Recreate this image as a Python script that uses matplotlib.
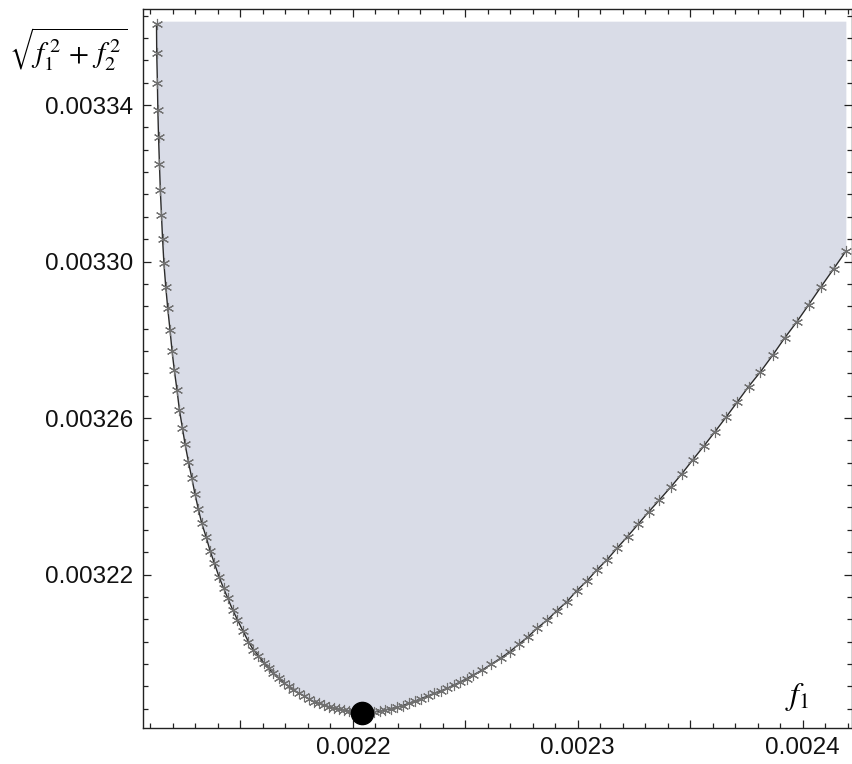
#!/usr/bin/env python3
# -*- coding: utf-8 -*-
# feasible region f1 vs sqrt(f1^2+f2^2) with optimum point

import numpy as np
import matplotlib
matplotlib.use("Agg")
import matplotlib.pyplot as pl
from matplotlib.ticker import FixedLocator, FixedFormatter

#--- data (in units of 1e-6)
f1_pts = [2112.7, 2112.8, 2113.1, 2113.3, 2113.6, 2114.0, 2114.4, 2114.9, 2115.4, 2116.0,
          2116.8, 2117.7, 2118.7, 2119.6, 2120.6, 2121.8, 2122.9, 2124.2, 2125.4, 2126.9,
          2128.4, 2129.8, 2131.3, 2132.8, 2134.7, 2136.5, 2138.4, 2140.5, 2142.5, 2144.4,
          2146.6, 2148.7, 2151.1, 2153.6, 2155.8, 2158.0, 2160.3, 2162.5, 2164.7, 2167.0,
          2169.2, 2171.4, 2173.6, 2175.9, 2178.2, 2180.4, 2182.6, 2184.9, 2187.1, 2189.3,
          2191.5, 2193.8, 2196.0, 2198.2, 2200.4, 2202.7, 2204.9, 2207.1, 2209.6, 2212.0,
          2214.5, 2216.9, 2219.6, 2222.3, 2224.9, 2227.6, 2230.3, 2233.2, 2236.1, 2239.0,
          2241.9, 2244.8, 2247.7, 2250.6, 2253.5, 2257.6, 2261.6, 2265.7, 2269.8, 2273.9,
          2277.9, 2282.0, 2286.5, 2290.6, 2295.1, 2299.6, 2304.0, 2308.5, 2312.9, 2317.4,
          2322.1, 2326.9, 2331.5, 2336.2, 2341.4, 2346.2, 2351.1, 2356.0, 2361.0, 2365.9,
          2370.8, 2375.9, 2381.2, 2386.7, 2391.9, 2397.4, 2402.6, 2408.2, 2413.7, 2419.4]

r_pts = [3360.7, 3353.2, 3345.7, 3338.7, 3331.9, 3324.9, 3318.3, 3311.9, 3305.7, 3299.5,
         3293.6, 3288.0, 3282.5, 3277.2, 3272.3, 3267.2, 3262.0, 3257.5, 3253.3, 3248.8,
         3244.6, 3240.6, 3236.7, 3233.1, 3229.7, 3226.1, 3222.9, 3219.4, 3216.5, 3213.9,
         3210.9, 3208.4, 3205.6, 3202.8, 3200.7, 3199.2, 3197.5, 3196.0, 3194.7, 3193.5,
         3192.3, 3191.4, 3190.5, 3189.7, 3189.0, 3188.2, 3187.5, 3187.1, 3186.6, 3186.2,
         3185.9, 3185.6, 3185.4, 3185.1, 3185.0, 3184.9, 3184.8, 3184.8, 3184.9, 3185.1,
         3185.4, 3185.7, 3186.1, 3186.5, 3187.1, 3187.6, 3188.3, 3188.9, 3189.6, 3190.2,
         3190.9, 3191.7, 3192.5, 3193.4, 3194.3, 3195.6, 3197.1, 3198.6, 3200.3, 3202.2,
         3204.1, 3206.3, 3208.4, 3210.7, 3213.0, 3215.9, 3218.3, 3221.2, 3223.7, 3226.7,
         3229.7, 3232.9, 3236.0, 3239.0, 3242.4, 3245.7, 3249.3, 3252.8, 3256.5, 3260.2,
         3264.0, 3268.0, 3271.8, 3276.1, 3280.4, 3284.6, 3288.9, 3293.6, 3298.1, 3302.8]

f1_opt = 2204.0
r_opt  = 3184.7
r_top  = 3361.3   # upper edge of the shaded region

xticks  = [0.0022, 0.0023, 0.0024]
xlabels = ["0.0022", "0.0023", "0.0024"]
yticks  = [0.00322, 0.00326, 0.00330, 0.00334]
ylabels = ["0.00322", "0.00326", "0.00330", "0.00334"]

f1 = np.array(f1_pts) * 1e-6
r  = np.array(r_pts) * 1e-6

#--- figure
pl.rcParams["font.family"] = "Liberation Sans"
pl.rcParams["mathtext.fontset"] = "stix"

fig = pl.figure(figsize=(8.53, 7.64), dpi=100)
ax  = fig.add_axes([0.1676, 0.0475, 0.8316, 0.9403])

#--- shaded region above the curve
px = np.concatenate([f1, [f1[-1], f1[0]]])
py = np.concatenate([r, [r_top * 1e-6, r_top * 1e-6]])
ax.fill(px, py, color="#d9dce7", lw=0, zorder=1)

#--- boundary curve with asterisks
ax.plot(f1, r, color="#2b2b2b", lw=1.0, zorder=2)
ax.plot(f1, r, ls="none", marker=(6, 2, 0), ms=8, mec="#707070", mew=0.8, zorder=3)

#--- optimum
ax.plot(f1_opt * 1e-6, r_opt * 1e-6, "o", color="black", ms=16, zorder=5)

ax.set_xlim(0.00210668, 0.00242205)
ax.set_ylim(0.00318084, 0.00336446)

#--- ticks, mathematica style frame
xmaj = np.arange(0.00215, 0.002425, 0.00005)
ax.xaxis.set_major_locator(FixedLocator(xmaj))
ax.xaxis.set_major_formatter(FixedFormatter(
    [xlabels[xticks.index(round(v, 5))] if round(v, 5) in xticks else "" for v in xmaj]))
ax.xaxis.set_minor_locator(FixedLocator(np.arange(0.00211, 0.002422, 0.00001)))

ystep = 0.00004 / 7
ax.yaxis.set_major_locator(FixedLocator(yticks))
ax.yaxis.set_major_formatter(FixedFormatter(ylabels))
ax.yaxis.set_minor_locator(FixedLocator(0.00334 + ystep * np.arange(-30, 5)))

ax.tick_params(which="both", direction="in", top=True, right=True,
               color="#222222", width=0.9, labelsize=17.5, labelcolor="#111111")
ax.tick_params(which="major", length=6, pad=7)
ax.tick_params(which="minor", length=3.5)
for s in ax.spines.values():
    s.set_color("#222222")
    s.set_linewidth(1.0)

#--- axis labels
fig.text(0.010, 0.937, r"$\sqrt{f_1^{\,2}\,+\,f_2^{\,2}}$", fontsize=21, ha="left", va="center")
ax.text(0.922, 0.043, r"$f_1$", transform=ax.transAxes, fontsize=23, ha="center", va="center")

fig.savefig("out.png", dpi=100)
